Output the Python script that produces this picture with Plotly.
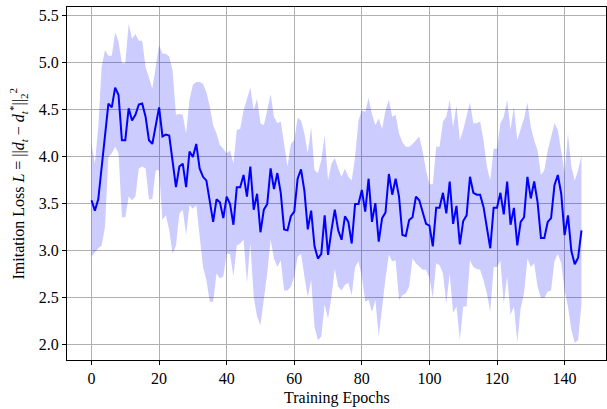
import plotly.graph_objects as go

epochs = list(range(146))

mean_loss = [
    3.53, 3.42, 3.54, 3.89, 4.24, 4.56, 4.52, 4.73, 4.65, 4.17,
    4.17, 4.51, 4.38, 4.44, 4.55, 4.56, 4.42, 4.17, 4.13, 4.31,
    4.52, 4.21, 4.23, 4.22, 3.92, 3.67, 3.89, 3.92, 3.67, 4.05,
    3.99, 4.13, 3.87, 3.78, 3.74, 3.50, 3.30, 3.54, 3.51, 3.34,
    3.57, 3.49, 3.27, 3.67, 3.67, 3.80, 3.57, 3.89, 3.43, 3.60,
    3.19, 3.43, 3.49, 3.87, 3.65, 3.82, 3.61, 3.22, 3.21, 3.36,
    3.41, 3.76, 3.86, 3.63, 3.22, 3.42, 3.04, 2.91, 2.96, 3.37,
    2.95, 3.21, 3.43, 3.21, 3.11, 3.36, 3.30, 3.07, 3.49, 3.49,
    3.64, 3.41, 3.76, 3.30, 3.50, 3.09, 3.34, 3.40, 3.81, 3.59,
    3.76, 3.57, 3.16, 3.15, 3.32, 3.35, 3.57, 3.53, 3.41, 3.28,
    3.26, 3.04, 3.45, 3.45, 3.61, 3.39, 3.73, 3.28, 3.47, 3.06,
    3.31, 3.37, 3.78, 3.61, 3.59, 3.59, 3.46, 3.25, 3.02, 3.45,
    3.45, 3.61, 3.38, 3.73, 3.27, 3.45, 3.05, 3.30, 3.35, 3.78,
    3.55, 3.73, 3.51, 3.13, 3.13, 3.30, 3.34, 3.69, 3.80, 3.60,
    3.16, 3.37, 2.99, 2.85, 2.92, 3.21,
]

upper_band = [
    4.13, 3.92, 4.31, 4.95, 5.13, 5.07, 5.07, 5.32, 5.22, 4.99,
    4.99, 5.41, 5.25, 5.30, 5.23, 5.23, 4.95, 4.83, 4.72, 4.95,
    5.18, 5.09, 5.09, 5.06, 4.91, 4.44, 4.45, 4.44, 4.24, 4.60,
    4.76, 4.79, 4.79, 4.77, 4.68, 4.53, 4.33, 4.24, 4.12, 4.08,
    4.03, 4.06, 3.92, 4.28, 4.29, 4.49, 4.60, 4.73, 4.49, 4.61,
    4.35, 4.33, 4.49, 4.66, 4.42, 4.35, 4.37, 4.10, 3.89, 4.13,
    4.17, 4.41, 4.38, 4.24, 4.03, 4.31, 3.85, 3.82, 3.96, 4.22,
    3.74, 3.92, 3.98, 3.87, 3.78, 3.87, 3.78, 3.74, 3.99, 4.38,
    4.49, 4.47, 4.62, 4.45, 4.33, 4.40, 4.29, 4.49, 4.60, 4.42,
    4.44, 4.24, 4.15, 4.10, 4.10, 4.13, 4.17, 4.21, 4.05, 3.85,
    3.70, 3.70, 4.10, 4.10, 4.37, 4.42, 4.60, 4.31, 4.54, 4.17,
    4.28, 4.42, 4.57, 4.35, 4.35, 4.37, 4.17, 3.89, 3.74, 4.08,
    4.08, 4.35, 4.42, 4.60, 4.28, 4.53, 4.17, 4.29, 4.40, 4.57,
    4.31, 4.17, 4.06, 3.80, 3.85, 4.06, 4.21, 4.35, 4.28, 4.06,
    3.82, 4.24, 3.89, 3.74, 3.85, 4.01,
]

lower_band = [
    2.93, 2.98, 3.02, 3.05, 3.25, 3.99, 4.03, 4.10, 4.03, 3.35,
    3.35, 3.57, 3.53, 3.57, 3.87, 3.89, 3.87, 3.54, 3.54, 3.85,
    3.85, 3.32, 3.37, 3.21, 2.96, 3.05, 3.39, 3.43, 3.16, 3.48,
    3.44, 3.48, 3.18, 2.82, 2.68, 2.45, 2.45, 2.75, 2.70, 2.72,
    2.96, 2.96, 2.72, 3.05, 3.07, 3.11, 2.65, 3.07, 2.50, 2.29,
    2.20, 2.47, 2.75, 3.11, 2.91, 2.82, 2.89, 2.57, 2.57, 2.61,
    2.72, 2.93, 2.96, 2.72, 2.50, 2.68, 2.18, 2.04, 2.08, 2.42,
    2.27, 2.50, 2.80, 2.61, 2.57, 2.63, 2.65, 2.52, 2.82, 2.88,
    2.72, 2.45, 2.47, 2.34, 2.47, 2.08, 2.40, 2.70, 2.95, 2.88,
    2.89, 2.47, 2.52, 2.54, 2.61, 2.91, 2.86, 2.82, 2.79, 2.79,
    2.70, 2.49, 2.86, 2.84, 2.75, 2.43, 2.75, 2.33, 2.40, 2.04,
    2.40, 2.40, 2.89, 2.82, 2.80, 2.79, 2.68, 2.54, 2.34, 2.82,
    2.82, 2.89, 2.43, 2.72, 2.31, 2.40, 2.02, 2.38, 2.54, 2.91,
    2.82, 2.86, 2.61, 2.49, 2.49, 2.56, 2.57, 2.88, 2.96, 2.86,
    2.57, 2.40, 2.15, 2.01, 2.04, 2.43,
]

x_ticks = [0, 20, 40, 60, 80, 100, 120, 140]
y_ticks = [2.0, 2.5, 3.0, 3.5, 4.0, 4.5, 5.0, 5.5]

x_title = "Training Epochs"
y_title = ("Imitation Loss <i>L</i> = ||<i>d<sub>t</sub></i> − "
           "<i>d</i><sub><i>t</i></sub><sup>*</sup>||<sub>2</sub><sup>2</sup>")

FONT = "Liberation Serif"

fig = go.Figure()
fig.add_trace(go.Scatter(x=epochs, y=lower_band, mode="lines",
                         line=dict(width=0, color="rgba(0,0,255,0)"),
                         showlegend=False, hoverinfo="skip"))
fig.add_trace(go.Scatter(x=epochs, y=upper_band, mode="lines",
                         line=dict(width=0, color="rgba(0,0,255,0)"),
                         fill="tonexty", fillcolor="rgba(0,0,255,0.2)",
                         showlegend=False, hoverinfo="skip"))
fig.add_trace(go.Scatter(x=epochs, y=mean_loss, mode="lines",
                         line=dict(width=2, color="#0000ff"),
                         showlegend=False))

axis_common = dict(
    showline=True, linecolor="black", linewidth=1, mirror=True,
    ticks="outside", ticklen=4, tickwidth=1, tickcolor="black",
    showgrid=True, gridcolor="#b0b0b0", gridwidth=1, zeroline=False,
    automargin=False,
    tickfont=dict(family=FONT, size=16, color="black"),
)

fig.update_xaxes(range=[-7.25, 152.25], tickvals=x_ticks, **axis_common)
fig.update_yaxes(range=[1.83, 5.588], tickvals=y_ticks, tickformat=".1f",
                 **axis_common)

fig.add_annotation(text=x_title, xref="paper", yref="paper", x=0.5, y=0,
                   xanchor="center", yanchor="middle", yshift=-38,
                   showarrow=False,
                   font=dict(family=FONT, size=16, color="black"))
fig.add_annotation(text=y_title, xref="paper", yref="paper", x=0, y=0.5,
                   xanchor="center", yanchor="middle", xshift=-49,
                   textangle=-90, showarrow=False,
                   font=dict(family=FONT, size=16, color="black"))

fig.update_layout(
    width=607, height=409,
    margin=dict(l=67, r=1, t=7, b=49),
    plot_bgcolor="white", paper_bgcolor="white",
    font=dict(family=FONT, color="black"),
)

fig.write_html(
    "out.html",
    config={"displayModeBar": False},
    post_script="document.body.style.margin='0';"
                "document.body.style.overflow='hidden';",
)
